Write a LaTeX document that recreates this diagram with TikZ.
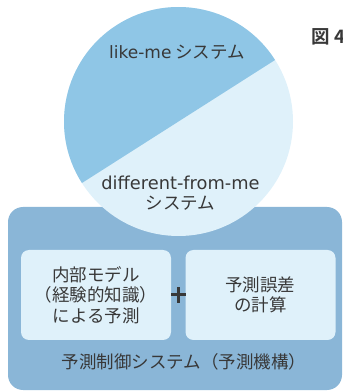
\documentclass[tikz,border=0pt]{standalone}
\usepackage{fontspec}
\setmainfont{Noto Sans CJK JP}
\newfontfamily\jpbold{Noto Sans CJK JP Bold}
\newfontfamily\lat{DejaVu Sans}
\definecolor{darkblue}{HTML}{8FC6E6}
\definecolor{lightblue}{HTML}{DFF1FA}
\definecolor{outerblue}{HTML}{8AB6D7}
\definecolor{txt}{HTML}{383838}
\tikzset{
  outerbox/.style={fill=outerblue, rounded corners=15pt, minimum width=334pt, minimum height=183pt, inner sep=0pt},
  innerbox/.style={fill=lightblue, rounded corners=8pt, minimum width=150pt, minimum height=90pt, inner sep=0pt,
    align=center, text=txt, font=\fontsize{17.5pt}{20.5pt}\selectfont},
  circlabel/.style={text=txt, align=center, font=\fontsize{17.5pt}{19.5pt}\selectfont, inner sep=0pt},
  plusline/.style={draw=txt, line width=3pt},
}
\begin{document}
\begin{tikzpicture}[x=1pt,y=1pt]
\useasboundingbox (0,0) rectangle (343,392);
% outer box
\node[outerbox] (outer) at (175,93.5) {};
% circle
\node[circle, fill=lightblue, minimum size=229pt, inner sep=0pt] (sys) at (178.5,270.5) {};
\fill[darkblue] (sys.center) ++(32.5:114.5) arc[start angle=32.5, end angle=212.5, radius=114.5] -- cycle;
\node[circlabel] (like) at (177,340) {{\lat\fontsize{17pt}{19pt}\selectfont like-me} システム};
\node[circlabel] (diff) at (180.5,199) {{\lat\fontsize{17.8pt}{19pt}\selectfont different-from-me}\\システム};
% inner boxes
\node[innerbox] (model) at (96,97) {内部モデル\\（経験的知識）\\による予測};
\node[innerbox] (err) at (260.5,97) {予測誤差\\の計算};
\coordinate (plus) at (178.5,97);
\draw[plusline] ([xshift=-7.5pt]plus) -- ([xshift=7.5pt]plus);
\draw[plusline] ([yshift=-8pt]plus) -- ([yshift=8pt]plus);
\node[text=txt, inner sep=0pt, font=\fontsize{17.5pt}{20pt}\selectfont] (label) at (184,30) {予測制御システム（予測機構）};
\node[text=txt, inner sep=0pt, anchor=west, font=\jpbold\fontsize{18.5pt}{20pt}\selectfont] (fig) at (311,355) {図\hspace{5pt}4};
\end{tikzpicture}
\end{document}
